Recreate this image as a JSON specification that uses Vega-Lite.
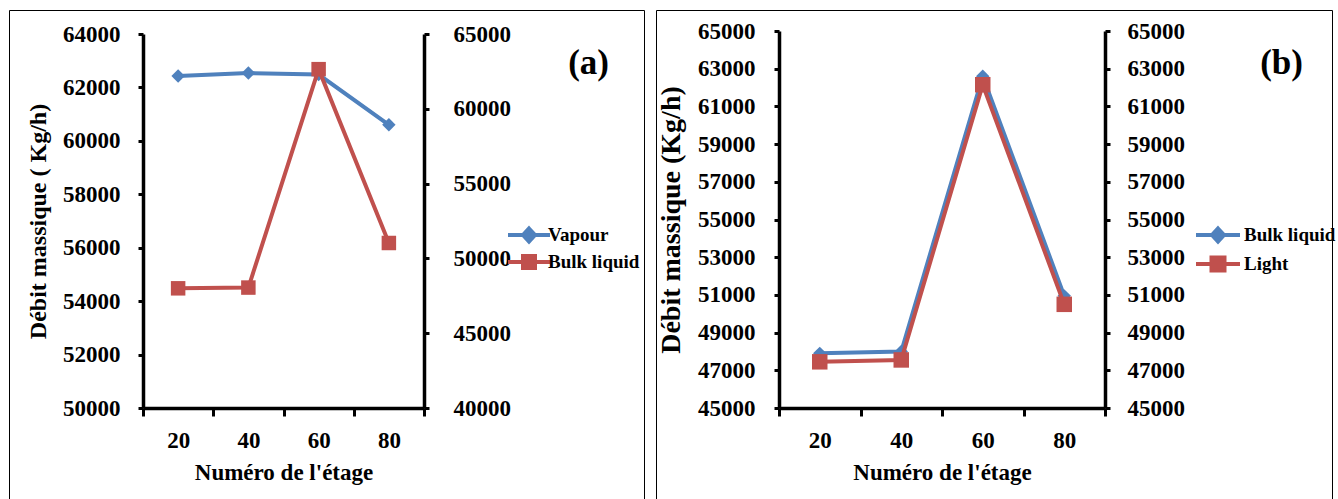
{
  "$schema": "https://vega.github.io/schema/vega-lite/v6.json",
  "background": "white",
  "padding": {"left": 8, "top": 9, "right": 0, "bottom": 0},
  "spacing": 10,
  "config": {
    "font": "Liberation Serif",
    "view": {"stroke": "black", "strokeWidth": 1},
    "axis": {
      "grid": false,
      "domainColor": "black",
      "domainWidth": 3.5,
      "tickColor": "black",
      "tickWidth": 3,
      "labelColor": "black",
      "labelFont": "Liberation Serif",
      "labelFontWeight": "bold",
      "labelFontSize": 23,
      "labelOverlap": false,
      "titleColor": "black",
      "titleFont": "Liberation Serif",
      "titleFontWeight": "bold",
      "titleFontSize": 23
    },
    "legend": {
      "labelFont": "Liberation Serif",
      "labelFontWeight": "bold",
      "labelFontSize": 19,
      "labelColor": "black",
      "padding": 0
    }
  },
  "resolve": {"scale": {"color": "independent"}, "legend": {"color": "independent"}},
  "hconcat": [
    {
      "width": 635,
      "height": 489,
      "data": {"values": [
        {"stage": 20, "series": "Vapour", "v": 62430},
        {"stage": 40, "series": "Vapour", "v": 62540},
        {"stage": 60, "series": "Vapour", "v": 62480},
        {"stage": 80, "series": "Vapour", "v": 60600},
        {"stage": 20, "series": "Bulk liquid", "v": 48000},
        {"stage": 40, "series": "Bulk liquid", "v": 48050},
        {"stage": 60, "series": "Bulk liquid", "v": 62650},
        {"stage": 80, "series": "Bulk liquid", "v": 51030}
      ]},
      "title": {"text": "(a)", "anchor": "end", "frame": "group", "orient": "top", "offset": -99, "dx": -35, "baseline": "alphabetic", "fontSize": 35, "fontWeight": "bold", "font": "Liberation Serif", "color": "black"},
      "encoding": {
        "x": {"field": "stage", "type": "ordinal",
          "scale": {"type": "band", "range": [134, 415], "paddingInner": 0, "paddingOuter": 0},
          "axis": {"orient": "bottom", "offset": -91, "labelAngle": 0, "tickBand": "extent", "tickSize": 8, "labelPadding": 13, "title": "Numéro de l'étage", "titlePadding": 9, "titleFontSize": 23}},
        "color": {"field": "series", "type": "nominal",
          "scale": {"domain": ["Vapour", "Bulk liquid"], "range": ["#4F81BD", "#C0504D"]},
          "legend": {"orient": "none", "legendX": 508, "legendY": 213, "title": null, "rowPadding": -2, "labelOffset": 7, "symbolSize": 400, "symbolStrokeWidth": 4,
            "encode": {"symbols": {"update": {
              "shape": {"signal": "datum.value === 'Vapour' ? 'M-2.1,0H2.1M0,-0.65L0.6,0L0,0.65L-0.6,0Z' : 'M-2.1,0H2.1M-0.6,-0.6H0.6V0.6H-0.6Z'"},
              "fill": {"signal": "datum.value === 'Vapour' ? '#4F81BD' : '#C0504D'"},
              "stroke": {"signal": "datum.value === 'Vapour' ? '#4F81BD' : '#C0504D'"},
              "strokeWidth": {"value": 4},
              "opacity": {"value": 1},
              "fillOpacity": {"value": 1}
            }}}}
        }
      },
      "layer": [
        {
          "transform": [{"filter": "datum.series === 'Vapour'"}],
          "encoding": {
            "y": {"field": "v", "type": "quantitative",
              "scale": {"domain": [50000, 64000], "range": [398, 24], "nice": false, "zero": false},
              "axis": {"orient": "left", "offset": -134, "values": [50000, 52000, 54000, 56000, 58000, 60000, 62000, 64000], "tickSize": 5, "labelPadding": 18, "format": "d", "title": "Débit massique ( Kg/h)", "titlePadding": 12, "titleFontSize": 24}}
          },
          "layer": [
            {"mark": {"type": "line", "strokeWidth": 4}},
            {"mark": {"type": "point", "shape": "diamond", "filled": true, "opacity": 1, "size": 180}}
          ]
        },
        {
          "transform": [{"filter": "datum.series === 'Bulk liquid'"}],
          "encoding": {
            "y": {"field": "v", "type": "quantitative",
              "scale": {"domain": [40000, 65000], "range": [398, 24], "nice": false, "zero": false},
              "axis": {"orient": "right", "offset": -220, "values": [40000, 45000, 50000, 55000, 60000, 65000], "tickSize": 5, "labelPadding": 24, "format": "d", "title": null}}
          },
          "layer": [
            {"mark": {"type": "line", "strokeWidth": 4}},
            {"mark": {"type": "point", "shape": "square", "filled": true, "opacity": 1, "size": 210}}
          ]
        }
      ],
      "resolve": {"scale": {"y": "independent"}}
    },
    {
      "width": 676,
      "height": 489,
      "data": {"values": [
        {"stage": 20, "series": "Bulk liquid", "v": 47900},
        {"stage": 40, "series": "Bulk liquid", "v": 48000},
        {"stage": 60, "series": "Bulk liquid", "v": 62600},
        {"stage": 80, "series": "Bulk liquid", "v": 50950},
        {"stage": 20, "series": "Light", "v": 47450},
        {"stage": 40, "series": "Light", "v": 47550},
        {"stage": 60, "series": "Light", "v": 62150},
        {"stage": 80, "series": "Light", "v": 50500}
      ]},
      "title": {"text": "(b)", "anchor": "end", "frame": "group", "orient": "top", "offset": -99, "dx": -29, "baseline": "alphabetic", "fontSize": 35, "fontWeight": "bold", "font": "Liberation Serif", "color": "black"},
      "encoding": {
        "x": {"field": "stage", "type": "ordinal",
          "scale": {"type": "band", "range": [123, 449], "paddingInner": 0, "paddingOuter": 0},
          "axis": {"orient": "bottom", "offset": -91, "labelAngle": 0, "tickBand": "extent", "tickSize": 8, "labelPadding": 13, "title": "Numéro de l'étage", "titlePadding": 9, "titleFontSize": 23}},
        "color": {"field": "series", "type": "nominal",
          "scale": {"domain": ["Bulk liquid", "Light"], "range": ["#4F81BD", "#C0504D"]},
          "legend": {"orient": "none", "legendX": 550, "legendY": 213, "title": null, "rowPadding": -1, "labelOffset": 14, "symbolSize": 400, "symbolStrokeWidth": 4,
            "encode": {"symbols": {"update": {
              "shape": {"signal": "datum.value === 'Bulk liquid' ? 'M-2.2,0H2.2M0,-0.65L0.6,0L0,0.65L-0.6,0Z' : 'M-2.2,0H2.2M-0.65,-0.65H0.65V0.65H-0.65Z'"},
              "fill": {"signal": "datum.value === 'Bulk liquid' ? '#4F81BD' : '#C0504D'"},
              "stroke": {"signal": "datum.value === 'Bulk liquid' ? '#4F81BD' : '#C0504D'"},
              "strokeWidth": {"value": 4},
              "opacity": {"value": 1},
              "fillOpacity": {"value": 1}
            }}}}
        }
      },
      "layer": [
        {
          "transform": [{"filter": "datum.series === 'Bulk liquid'"}],
          "encoding": {
            "y": {"field": "v", "type": "quantitative",
              "scale": {"domain": [45000, 65000], "range": [398, 21], "nice": false, "zero": false},
              "axis": {"orient": "left", "offset": -123, "values": [45000, 47000, 49000, 51000, 53000, 55000, 57000, 59000, 61000, 63000, 65000], "tickSize": 5, "labelPadding": 19, "format": "d", "title": "Débit massique (Kg/h)", "titlePadding": 12, "titleFontSize": 28}}
          },
          "layer": [
            {"mark": {"type": "line", "strokeWidth": 4}},
            {"mark": {"type": "point", "shape": "diamond", "filled": true, "opacity": 1, "size": 180}}
          ]
        },
        {
          "transform": [{"filter": "datum.series === 'Light'"}],
          "encoding": {
            "y": {"field": "v", "type": "quantitative",
              "scale": {"domain": [45000, 65000], "range": [398, 21], "nice": false, "zero": false},
              "axis": {"orient": "right", "offset": -227, "values": [45000, 47000, 49000, 51000, 53000, 55000, 57000, 59000, 61000, 63000, 65000], "tickSize": 5, "labelPadding": 17, "format": "d", "title": null}}
          },
          "layer": [
            {"mark": {"type": "line", "strokeWidth": 4}},
            {"mark": {"type": "point", "shape": "square", "filled": true, "opacity": 1, "size": 240}}
          ]
        }
      ],
      "resolve": {"scale": {"y": "independent"}}
    }
  ]
}
